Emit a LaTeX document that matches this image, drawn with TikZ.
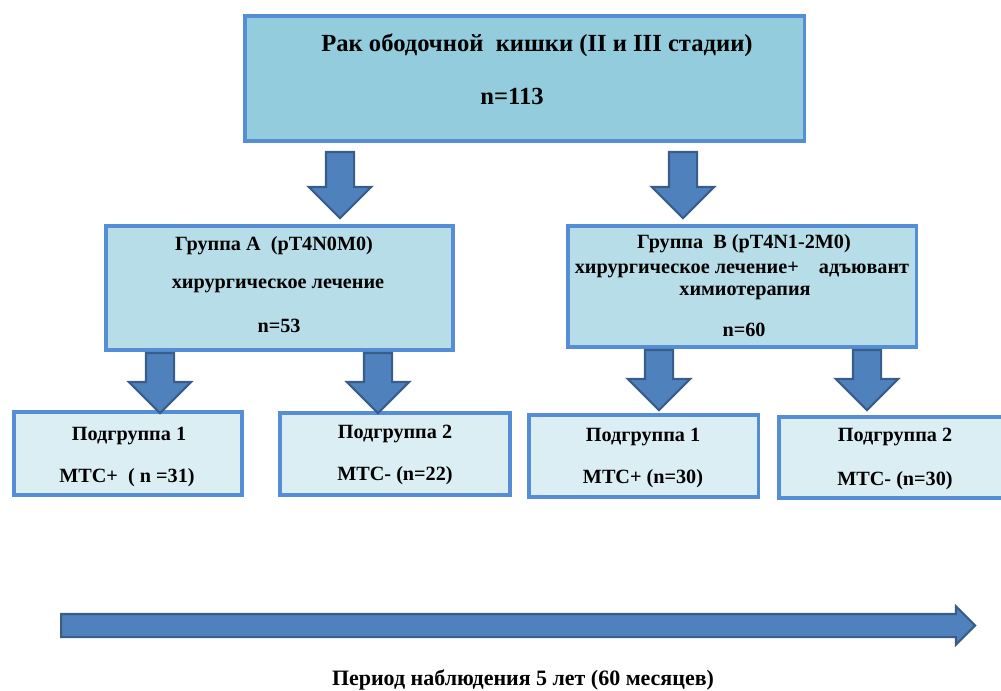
\documentclass[tikz,border=0pt]{standalone}
\usepackage{fontspec}
\setmainfont{Liberation Serif}
\usetikzlibrary{shapes.arrows}
\definecolor{boxline}{RGB}{85,142,213}
\definecolor{topfill}{RGB}{147,205,221}
\definecolor{grfill}{RGB}{183,222,232}
\definecolor{podfill}{RGB}{219,238,244}
\definecolor{arrfill}{RGB}{79,129,189}
\definecolor{arrline}{RGB}{56,93,138}
\begin{document}
\begin{tikzpicture}[x=0.2mm,y=-0.2mm,every node/.style={font=\bfseries\fontsize{11.5}{13}\selectfont},
  box/.style={draw=boxline,line width=2pt,inner sep=0pt},
  blkarrow/.style={single arrow,draw=arrline,line width=1.2pt,fill=arrfill,inner xsep=0pt,inner ysep=2.6mm,single arrow head extend=3.4mm,anchor=tail}]
\useasboundingbox (0,0) rectangle (1001,691);
% top box
\node[box,fill=topfill,minimum width=111.9mm,minimum height=25.1mm] (rak) at (524.5,78.5) {};
\node[font=\bfseries\fontsize{14}{16}\selectfont] (rakT) at (537,45) {Рак ободочной \ кишки (II и III стадии)};
\node[font=\bfseries\fontsize{14}{16}\selectfont] (rakN) at (512,96) {n=113};
% groups
\node[box,fill=grfill,minimum width=69.5mm,minimum height=24.9mm] (grA) at (279.5,288) {};
\node (grAT) at (274,246) {Группа А \ (pT4N0M0)};
\node (grAL) at (278,286) {хирургическое лечение};
\node (grAN) at (279,326) {n=53};
\node[box,fill=grfill,minimum width=69.7mm,minimum height=24.3mm] (grB) at (742,286.5) {};
\node (grBT) at (744,244) {Группа \ В (pT4N1-2M0)};
\node (grBL) at (742,270) {хирургическое лечение+ \ \ \ адъювант};
\node (grBH) at (745,293) {химиотерапия};
\node (grBN) at (744,330) {n=60};
% subgroups
\node[box,fill=podfill,minimum width=45.7mm,minimum height=16.7mm] (podA1) at (128,453.5) {};
\node (podA1T) at (129,436) {Подгруппа 1};
\node (podA1N) at (127,478) {МТС+ \ ( n =31)};
\node[box,fill=podfill,minimum width=46.1mm,minimum height=16.5mm] (podA2) at (395,454) {};
\node (podA2T) at (395,434) {Подгруппа 2};
\node (podA2N) at (395,476) {МТС- (n=22)};
\node[box,fill=podfill,minimum width=45.9mm,minimum height=16.5mm] (podB1) at (643.5,456) {};
\node (podB1T) at (643,437) {Подгруппа 1};
\node (podB1N) at (643,479) {МТС+ (n=30)};
\node[box,fill=podfill,minimum width=45mm,minimum height=16.3mm] (podB2) at (891.5,457.5) {};
\node (podB2T) at (895,437) {Подгруппа 2};
\node (podB2N) at (895,481) {МТС- (n=30)};
% block arrows
\node[blkarrow,rotate=-90,minimum height=13.2mm] (arA) at (340,151) {};
\node[blkarrow,rotate=-90,minimum height=13.2mm] (arB) at (683,151) {};
\node[blkarrow,rotate=-90,minimum height=12mm] (arA1) at (160,352) {};
\node[blkarrow,rotate=-90,minimum height=12mm] (arA2) at (378,352) {};
\node[blkarrow,rotate=-90,minimum height=12mm] (arB1) at (659,349) {};
\node[blkarrow,rotate=-90,minimum height=12mm] (arB2) at (867,349) {};
% time line
\node[blkarrow,inner ysep=2.1mm,single arrow head extend=1.5mm,minimum height=182.8mm] (period) at (60,625.5) {};
\node[font=\bfseries\fontsize{12.5}{14}\selectfont] (periodT) at (523,680) {Период наблюдения 5 лет (60 месяцев)};
\end{tikzpicture}
\end{document}
